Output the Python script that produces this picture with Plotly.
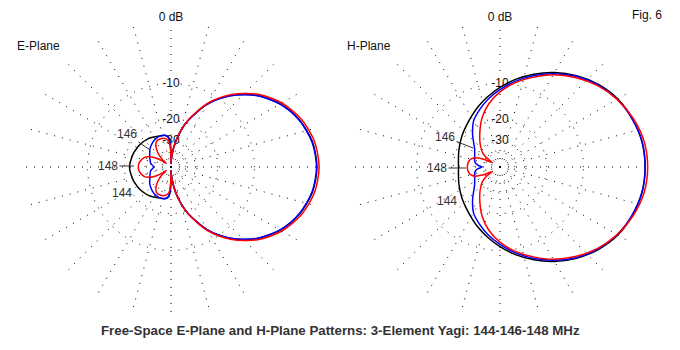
import plotly.graph_objects as go

# ---------------- data (dB; patterns symmetric about 0-180 axis) -------------
ang_e = [0, 10, 20, 30, 40, 50, 60, 70, 75, 80, 85, 88, 90, 91, 92, 95, 100, 110, 120, 125,
         130, 135, 140, 143, 145, 150, 155, 160, 170, 175, 180]
e_144 = [-0.4, -0.67, -1.5, -2.9, -5.0, -8.1, -12.4, -19.1, -23.9, -30.8, -42, -52, -65, -36, -30.5,
         -27.5, -26.4, -25.9, -25.1, -24.6, -24.2, -23.9, -23.6, -23.4, -23.3, -23.1, -22.9, -22.6,
         -22.3, -22.1, -22.0]
e_146 = [-0.45, -0.72, -1.55, -2.95, -5.05, -8.15, -12.45, -19.1, -23.9, -30.8, -42, -52, -65, -37,
         -31.5, -27.8, -26.4, -26.0, -26.5, -27.0, -27.6, -28.3, -29.0, -29.6, -30.0, -31.0, -31.8,
         -32.6, -34.0, -35.8, -37.0]
e_148 = [-0.15, -0.42, -1.25, -2.65, -4.75, -7.85, -12.15, -18.85, -23.65, -30.5, -42, -52, -65, -40,
         -33.5, -30.0, -28.4, -27.5, -28.0, -29.8, -32.8, -37.5, -46, -55, -46, -36, -31, -28.6,
         -26.7, -26.2, -26.1]

ang_h = [0, 10, 20, 30, 40, 50, 60, 70, 80, 90, 100, 110, 120, 130, 140, 145, 150, 155, 160, 165,
         170, 175, 180]
h_144 = [-0.5, -0.6, -1.0, -1.6, -2.6, -3.9, -5.4, -7.1, -8.9, -10.8, -12.7, -14.5, -16.3, -17.8,
         -19.0, -19.6, -20.1, -20.6, -21.0, -21.4, -21.7, -21.9, -22.0]
h_146 = [-0.5, -0.6, -1.05, -1.7, -2.7, -4.0, -5.6, -7.4, -9.3, -11.3, -13.3, -15.5, -17.8, -21.5,
         -25.5, -27.0, -28.0, -28.8, -29.3, -29.8, -30.5, -32.5, -36.5]
h_148 = [-0.2, -0.35, -0.9, -1.7, -2.8, -4.2, -5.8, -7.7, -9.6, -11.8, -14.5, -18.0, -22.5, -27.0,
         -32.0, -37.0, -48.0, -36.0, -29.5, -27.5, -26.6, -26.2, -26.1]

ring_db = [0, -10, -20, -30, -40]
label_db = [0, -10, -20, -30]
ring_labels = ["0 dB", "-10", "-20", "-30"]
freqs = ["144", "146", "148"]
colors = ["#000000", "#0000ff", "#ff0000"]

title = "Free-Space E-Plane and H-Plane Patterns: 3-Element Yagi: 144-146-148 MHz"


def arrl(db):
    """ARRL log-periodic radial scale (0.89 per 2 dB)."""
    return 0.89 ** (-db / 2.0)


def full(ang, vals):
    th = list(ang) + [-a for a in reversed(ang[:-1])]
    v = list(vals) + list(reversed(vals[:-1]))
    return th, [arrl(x) for x in v]


FONT = "Liberation Sans, Arial, sans-serif"
fig = go.Figure()

for sub, ang, series in (("polar", ang_e, [e_144, e_146, e_148]),
                         ("polar2", ang_h, [h_144, h_146, h_148])):
    # ring labels on white patches (drawn first, so the pattern lines run over them)
    fig.add_trace(go.Scatterpolar(theta=[90] * len(label_db), r=[arrl(d) for d in label_db],
                                  mode="markers+text", text=ring_labels, subplot=sub,
                                  marker=dict(symbol="square", size=13, color="white",
                                              line=dict(width=0)),
                                  textposition="middle center",
                                  textfont=dict(family=FONT, size=12, color="#111111"),
                                  showlegend=False, hoverinfo="skip"))
    for f, c, vals in zip(freqs, colors, series):
        th, r = full(ang, vals)
        fig.add_trace(go.Scatterpolar(theta=th, r=r, mode="lines", subplot=sub,
                                      line=dict(color=c, width=1.5, shape="spline", smoothing=0.8),
                                      name=f, showlegend=False, hoverinfo="skip"))

# page body has an 8px margin: work in page pixels and shift into figure pixels
OX, OY = 8, 8
W, H = 664, 334


def px(x):
    return (x - OX) / W


def py(y):
    return 1 - (y - OY) / H


polar_common = dict(
    bgcolor="rgba(0,0,0,0)",
    radialaxis=dict(range=[0, 1.004], tickmode="array", tickvals=[arrl(d) for d in ring_db],
                    showticklabels=False, ticks="", showline=False, gridcolor="#000000",
                    griddash="1px,7px", gridwidth=1),
    angularaxis=dict(dtick=15, rotation=0, direction="counterclockwise", showticklabels=False,
                     ticks="", showline=False, gridcolor="#000000", griddash="1px,7px",
                     gridwidth=1),
)

ann = []


def label(text, x, y, size=12, bold=False, color="#111111", xanchor="center"):
    ann.append(dict(text=("<b>%s</b>" % text) if bold else text, x=px(x), y=py(y),
                    xref="paper", yref="paper", showarrow=False, xanchor=xanchor,
                    yanchor="middle", font=dict(family=FONT, size=size, color=color)))


def leader(text, tipx, tipy, tx, ty):
    ann.append(dict(text=text, x=px(tipx), y=py(tipy), xref="paper", yref="paper",
                    showarrow=True, arrowhead=0, arrowwidth=1, arrowcolor="#333333",
                    ax=tx - tipx, ay=ty - tipy, font=dict(family=FONT, size=12, color="#333333")))


label("E-Plane", 15, 46, xanchor="left")
label("H-Plane", 345, 46, xanchor="left")
label("Fig. 6", 630, 15, xanchor="left")
label(title, 340, 330, size=13.3, bold=True, color="#333333")

leader("146", 150, 150, 127, 134)
leader("148", 134, 166, 108, 166)
label("144", 122, 193, color="#333333")
leader("146", 473, 148, 445, 137)
leader("148", 466, 168, 437, 168)
label("144", 447, 201, color="#333333")

fig.update_layout(
    width=W, height=H, margin=dict(l=0, r=0, t=0, b=0),
    paper_bgcolor="white", plot_bgcolor="white",
    polar=dict(domain=dict(x=[px(21), px(321)], y=[py(317), py(17)]), **polar_common),
    polar2=dict(domain=dict(x=[px(350), px(650)], y=[py(317), py(17)]), **polar_common),
    annotations=ann, showlegend=False,
)

fig.write_html("out.html")
